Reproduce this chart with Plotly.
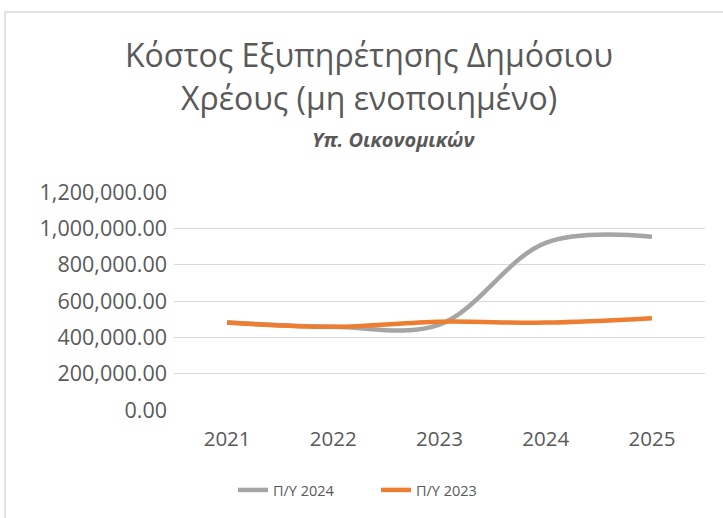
import plotly.graph_objects as go

years = ["2021", "2022", "2023", "2024", "2025"]
py2024 = [481000, 458000, 470000, 920000, 954000]
py2023 = [481000, 458000, 486000, 481000, 505000]
series_names = ["Π/Υ 2024", "Π/Υ 2023"]
title_line1 = "Κόστος Εξυπηρέτησης Δημόσιου"
title_line2 = "Χρέους (μη ενοποιημένο)"
subtitle = "Υπ. Οικονομικών"

FONT = "Open Sans"
TXT = "#595959"

fig = go.Figure()
fig.add_trace(go.Scatter(x=years, y=py2024, name=series_names[0], mode="lines",
                         line=dict(color="#a5a5a5", width=4.5, shape="spline", smoothing=1)))
fig.add_trace(go.Scatter(x=years, y=py2023, name=series_names[1], mode="lines",
                         line=dict(color="#ed7d31", width=4.5, shape="spline", smoothing=1)))

W, H = 723, 518
L, R, T, B = 174, 705, 192, 410

def px(x):
    return (x - L) / (R - L)

def py(y):
    return (B - y) / (B - T)

fig.update_layout(
    width=W, height=H,
    margin=dict(l=L, r=W - R, t=T, b=H - B, pad=0),
    paper_bgcolor="white", plot_bgcolor="white",
    font=dict(family=FONT, color=TXT),
    showlegend=True,
    legend=dict(orientation="h", x=px(376), xanchor="center", y=py(490), yanchor="middle",
                font=dict(size=14.5, color=TXT), tracegroupgap=0,
                entrywidth=98, entrywidthmode="pixels"),
    xaxis=dict(type="category", range=[-0.5, 4.5], showgrid=False, zeroline=False, showline=False,
               ticks="", tickfont=dict(size=20.5, color=TXT), ticklabelstandoff=14),
    yaxis=dict(range=[0, 1200000], dtick=200000, tickformat=",.2f",
               showgrid=True, gridcolor="#d9d9d9", gridwidth=1.3, zeroline=False,
               showline=False, ticks="", tickfont=dict(size=21.5, color=TXT),
               ticklabelstandoff=6),
    annotations=[
        dict(text=title_line1, x=px(369), y=py(54), xref="paper", yref="paper",
             showarrow=False, xanchor="center", yanchor="middle",
             font=dict(size=32, color=TXT, family=FONT)),
        dict(text=title_line2, x=px(369), y=py(97), xref="paper", yref="paper",
             showarrow=False, xanchor="center", yanchor="middle",
             font=dict(size=32, color=TXT, family=FONT)),
        dict(text="<b><i>" + subtitle + "</i></b>", x=px(393), y=py(139), xref="paper", yref="paper",
             showarrow=False, xanchor="center", yanchor="middle",
             font=dict(size=20, color=TXT, family=FONT)),
    ],
    shapes=[
        dict(type="line", xref="paper", yref="paper", x0=px(5), x1=px(723), y0=py(12), y1=py(12),
             line=dict(color="#d9d9d9", width=1.5)),
        dict(type="line", xref="paper", yref="paper", x0=px(5), x1=px(5), y0=py(12), y1=py(518),
             line=dict(color="#d9d9d9", width=1.5)),
    ],
)

fig.write_html("out.html", config={"displayModeBar": False},
               post_script="document.body.style.margin='0';document.body.style.overflow='hidden';")
